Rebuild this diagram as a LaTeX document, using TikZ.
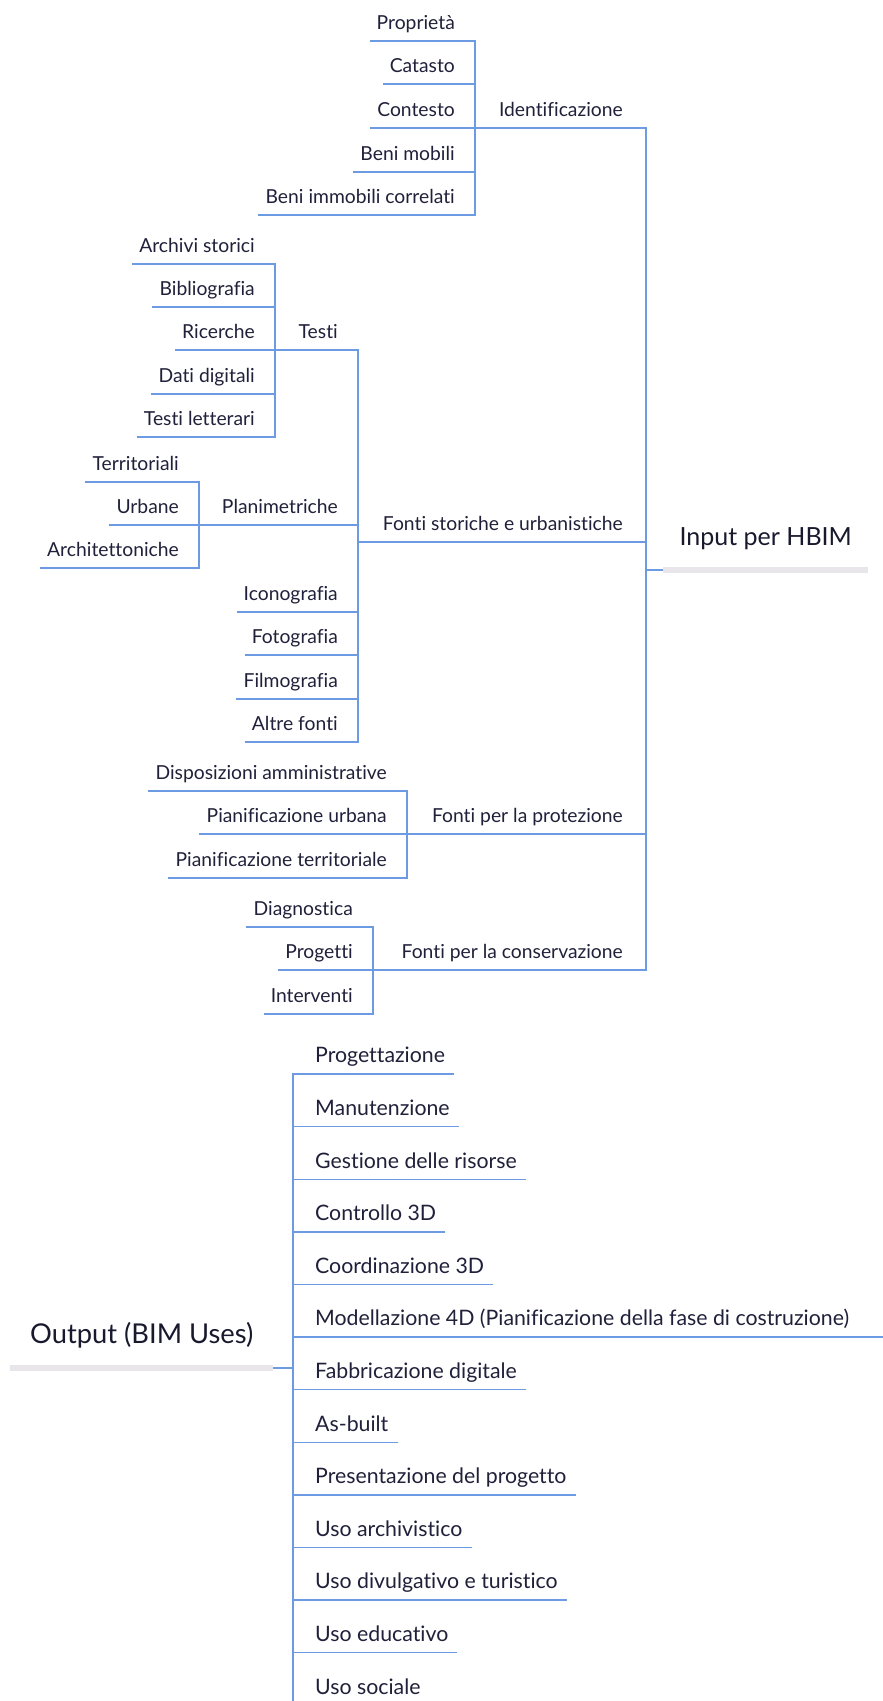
\documentclass[tikz,border=0pt]{standalone}
\usepackage{fontspec}
\setmainfont{Lato}[Ligatures=NoCommon]
\usepackage{xcolor}
\usetikzlibrary{positioning,calc}

\definecolor{mapblue}{RGB}{108,155,228}
\definecolor{mapink}{RGB}{32,32,58}
\definecolor{mapgrey}{RGB}{232,230,234}

\begin{document}
\begin{tikzpicture}[x=1pt, y=-1pt,
  leaf/.style={anchor=south east, inner xsep=7pt, inner ysep=11pt, text depth=0pt, text=mapink, font=\fontsize{19.3}{23}\selectfont},
  branch/.style={anchor=south east, inner xsep=0pt, inner ysep=11pt, text depth=0pt, text=mapink, font=\fontsize{19.3}{23}\selectfont},
  bimuse/.style={anchor=south west, inner xsep=9pt, inner ysep=11pt, text depth=0pt, text=mapink, font=\fontsize{21.3}{25}\selectfont},
  root/.style={anchor=south west, inner xsep=0pt, inner ysep=24pt, text depth=0pt, text=mapink!80!black, font=\fontsize{25}{30}\selectfont},
  line/.style={draw=mapblue, line width=1.4pt},
  bar/.style={draw=mapgrey, line width=6pt}]
  \useasboundingbox (0,0) rectangle (883,1701);

  % Input per HBIM
  \coordinate (hub) at (646,570);
  \node [root, minimum width=205pt] (input) at (663,570) {Input per HBIM};
  \path [bar] (input.south west) -- (input.south east);
  \path [line] (input.south west) -- (hub);

  % Identificazione
  \coordinate (identJ) at (475,128);
  \node [branch] (ident) at (623,128) {Identificazione};
  \node [leaf] (prop) at (462,41) {Proprietà};
  \node [leaf] (catasto) at (462,84) {Catasto};
  \node [leaf] (contesto) at (462,128) {Contesto};
  \node [leaf] (benimob) at (462,172) {Beni mobili};
  \node [leaf] (beniimm) at (462,215) {Beni immobili correlati};
  \path [line] (prop.south west) -| (identJ);
  \path [line] (catasto.south west) -| (identJ);
  \path [line] (contesto.south west) -| (identJ);
  \path [line] (benimob.south west) -| (identJ);
  \path [line] (beniimm.south west) -| (identJ);
  \path [line] (identJ) -- (ident.south east) -| (hub);

  % Fonti storiche e urbanistiche
  \coordinate (storJ) at (358,542);
  \node [branch] (stor) at (623,542) {Fonti storiche e urbanistiche};
  \path [line] (storJ) -- (stor.south east) -| (hub);

  \coordinate (testiJ) at (275,350);
  \node [branch] (testi) at (338,350) {Testi};
  \node [leaf] (archivi) at (262,264) {Archivi storici};
  \node [leaf] (biblio) at (262,307) {Bibliografia};
  \node [leaf] (ricerche) at (262,350) {Ricerche};
  \node [leaf] (dati) at (262,394) {Dati digitali};
  \node [leaf] (letterari) at (262,437) {Testi letterari};
  \path [line] (archivi.south west) -| (testiJ);
  \path [line] (biblio.south west) -| (testiJ);
  \path [line] (ricerche.south west) -| (testiJ);
  \path [line] (dati.south west) -| (testiJ);
  \path [line] (letterari.south west) -| (testiJ);
  \path [line] (testiJ) -- (testi.south east) -| (storJ);

  \coordinate (planJ) at (199,525);
  \node [branch] (plan) at (338,525) {Planimetriche};
  \node [leaf] (territ) at (186,482) {Territoriali};
  \node [leaf] (urbane) at (186,525) {Urbane};
  \node [leaf] (archit) at (186,568) {Architettoniche};
  \path [line] (territ.south west) -| (planJ);
  \path [line] (urbane.south west) -| (planJ);
  \path [line] (archit.south west) -| (planJ);
  \path [line] (planJ) -- (plan.south east) -| (storJ);

  \node [leaf] (icono) at (345,612) {Iconografia};
  \node [leaf] (foto) at (345,655) {Fotografia};
  \node [leaf] (film) at (345,699) {Filmografia};
  \node [leaf] (altre) at (345,742) {Altre fonti};
  \path [line] (icono.south west) -| (storJ);
  \path [line] (foto.south west) -| (storJ);
  \path [line] (film.south west) -| (storJ);
  \path [line] (altre.south west) -| (storJ);

  % Fonti per la protezione
  \coordinate (protJ) at (407,834);
  \node [branch] (prot) at (623,834) {Fonti per la protezione};
  \node [leaf] (dispos) at (394,791) {Disposizioni amministrative};
  \node [leaf] (pianurb) at (394,834) {Pianificazione urbana};
  \node [leaf] (pianterr) at (394,878) {Pianificazione territoriale};
  \path [line] (dispos.south west) -| (protJ);
  \path [line] (pianurb.south west) -| (protJ);
  \path [line] (pianterr.south west) -| (protJ);
  \path [line] (protJ) -- (prot.south east) -| (hub);

  % Fonti per la conservazione
  \coordinate (consJ) at (373,970);
  \node [branch] (cons) at (623,970) {Fonti per la conservazione};
  \node [leaf] (diagn) at (360,927) {Diagnostica};
  \node [leaf] (progetti) at (360,970) {Progetti};
  \node [leaf] (interv) at (360,1014) {Interventi};
  \path [line] (diagn.south west) -| (consJ);
  \path [line] (progetti.south west) -| (consJ);
  \path [line] (interv.south west) -| (consJ);
  \path [line] (consJ) -- (cons.south east) -| (hub);

  % Output (BIM Uses)
  \coordinate (outHub) at (293,1368);
  \coordinate (outEnd) at (293,1701);
  \coordinate (modEnd) at (884,1337);
  \node [root, minimum width=263pt, font=\fontsize{27.3}{32}\selectfont] (output) at (10,1368) {Output (BIM Uses)};
  \path [bar] (output.south west) -- (output.south east);
  \path [line] (output.south east) -- (outHub);

  \node [bimuse] (progett) at (306,1074) {Progettazione};
  \node [bimuse] (manut) at (306,1126.6) {Manutenzione};
  \node [bimuse] (risorse) at (306,1179.2) {Gestione delle risorse};
  \node [bimuse] (contr) at (306,1231.8) {Controllo 3D};
  \node [bimuse] (coord) at (306,1284.4) {Coordinazione 3D};
  \node [bimuse] (model) at (306,1337) {Modellazione 4D (Pianificazione della fase di costruzione)};
  \node [bimuse] (fabbr) at (306,1389.6) {Fabbricazione digitale};
  \node [bimuse] (asbuilt) at (306,1442.2) {As-built};
  \node [bimuse] (present) at (306,1494.8) {Presentazione del progetto};
  \node [bimuse] (archiv) at (306,1547.4) {Uso archivistico};
  \node [bimuse] (divulg) at (306,1600) {Uso divulgativo e turistico};
  \node [bimuse] (educ) at (306,1652.6) {Uso educativo};
  \node [bimuse] (sociale) at (306,1705.2) {Uso sociale};
  \path [line] (progett.south east) -| (outHub);
  \path [line] (manut.south east) -| (outHub);
  \path [line] (risorse.south east) -| (outHub);
  \path [line] (contr.south east) -| (outHub);
  \path [line] (coord.south east) -| (outHub);
  \path [line] (modEnd) -| (outHub);
  \path [line] (fabbr.south east) -| (outHub);
  \path [line] (asbuilt.south east) -| (outHub);
  \path [line] (present.south east) -| (outHub);
  \path [line] (archiv.south east) -| (outHub);
  \path [line] (divulg.south east) -| (outHub);
  \path [line] (educ.south east) -| (outHub);
  \path [line] (outHub) -- (outEnd);
\end{tikzpicture}
\end{document}
